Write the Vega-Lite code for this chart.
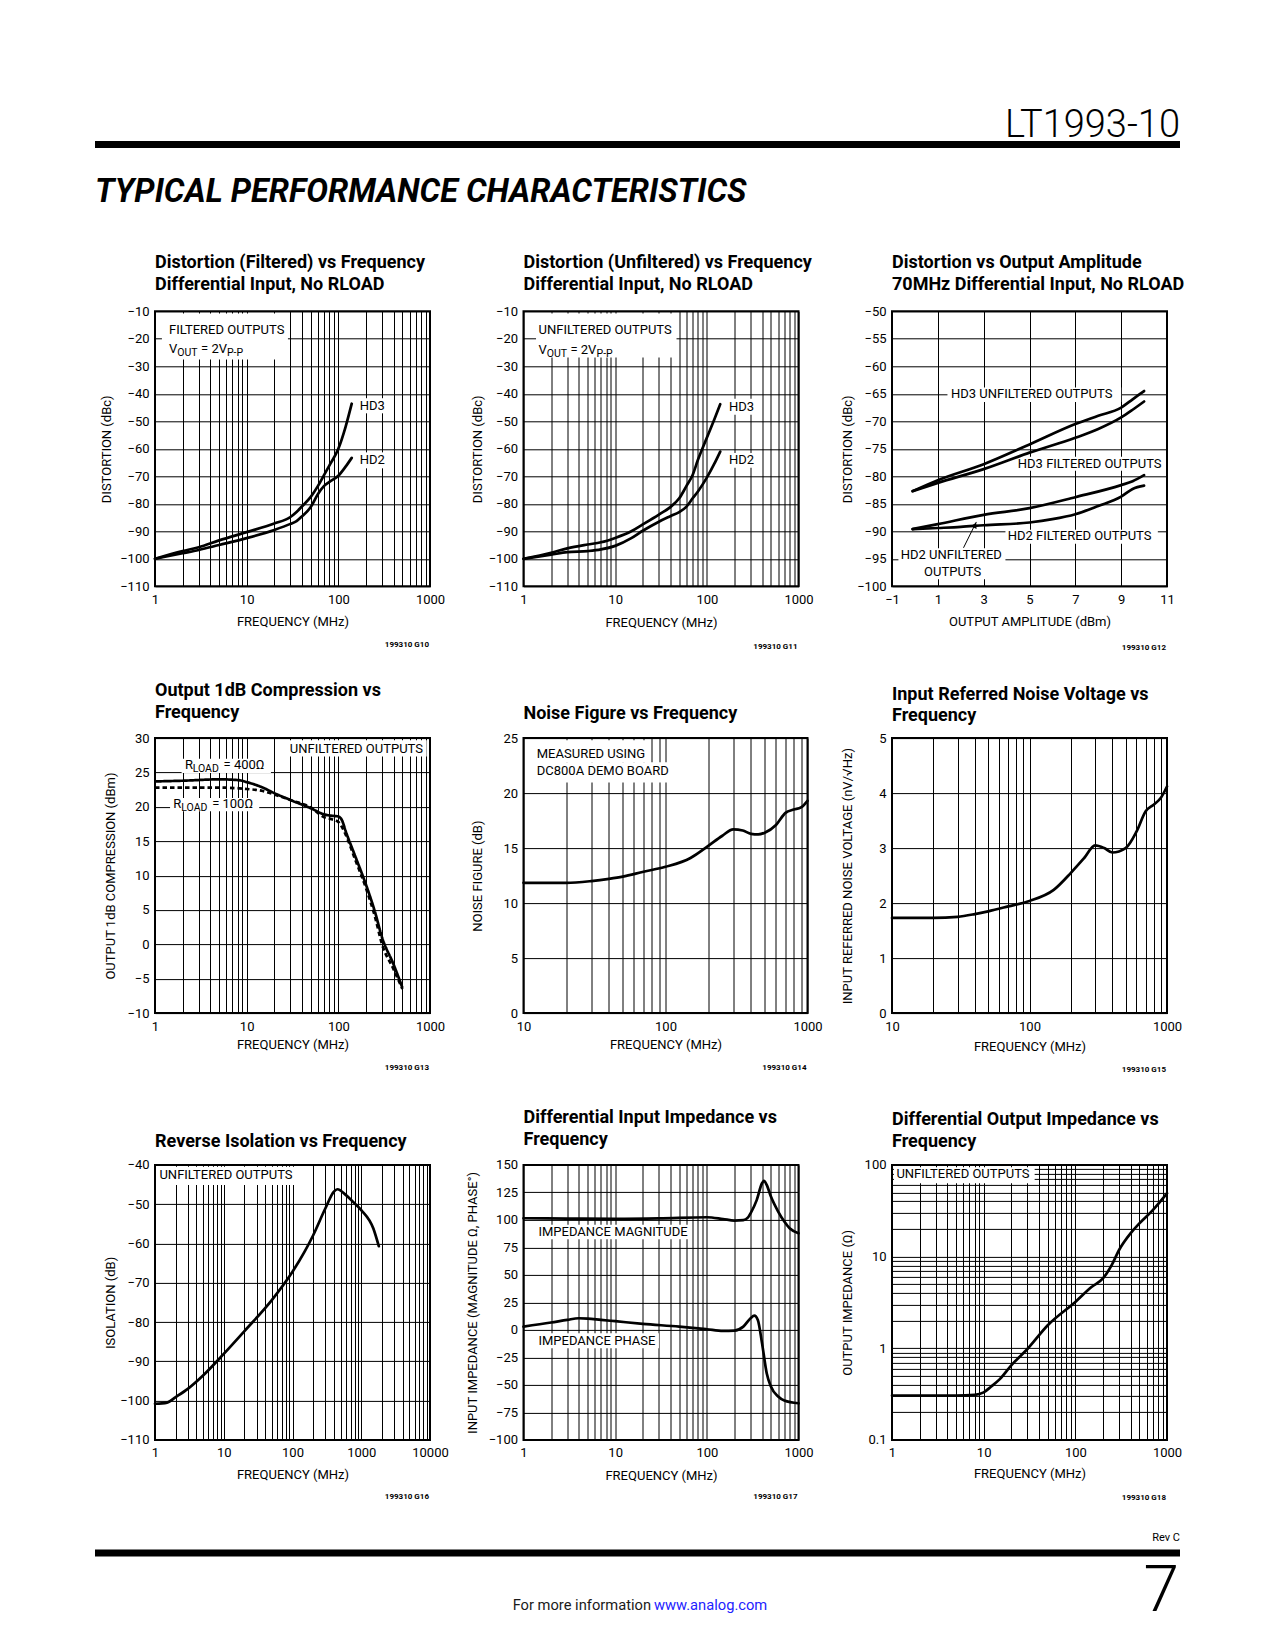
{
"$schema": "https://vega.github.io/schema/vega-lite/v6.json",
"background": "white",
"padding": {"left": 95, "top": 107, "right": 5, "bottom": 5},
"config": {
  "font": "Roboto",
  "view": {"stroke": "black", "strokeWidth": 2},
  "axis": {"domain": false, "ticks": false, "tickSize": 0, "grid": true, "gridColor": "black", "gridWidth": 1, "gridOpacity": 1, "labelFont": "Roboto", "labelFontSize": 13, "labelColor": "black", "labelFlush": false, "labelOverlap": false, "titleFont": "Roboto", "titleFontSize": 13, "titleFontWeight": "normal", "titleColor": "black", "titleBaseline": "middle"},
  "axisX": {"labelPadding": 7},
  "axisY": {"labelPadding": 6},
  "title": {"font": "Roboto", "fontSize": 18, "fontWeight": "bold", "color": "black", "anchor": "start", "frame": "group", "lineHeight": 21.5},
  "text": {"font": "Roboto", "fontSize": 13, "color": "black"}
},
"spacing": 28.3,
"datasets": {
  "l1": [
    {"x":1,"y":-100,"s":"HD3"},{"x":2,"y":-97.2,"s":"HD3"},{"x":3,"y":-95.8,"s":"HD3"},{"x":5,"y":-93.3,"s":"HD3"},{"x":10,"y":-90.3,"s":"HD3"},{"x":20,"y":-87.2,"s":"HD3"},{"x":30,"y":-84.8,"s":"HD3"},{"x":35,"y":-83,"s":"HD3"},{"x":40,"y":-81,"s":"HD3"},{"x":50,"y":-77.5,"s":"HD3"},{"x":60,"y":-73.5,"s":"HD3"},{"x":70,"y":-69.5,"s":"HD3"},{"x":80,"y":-66,"s":"HD3"},{"x":100,"y":-60,"s":"HD3"},{"x":120,"y":-52,"s":"HD3"},{"x":140,"y":-43.6,"s":"HD3"},
    {"x":1,"y":-100,"s":"HD2"},{"x":2,"y":-98,"s":"HD2"},{"x":3,"y":-96.8,"s":"HD2"},{"x":5,"y":-95,"s":"HD2"},{"x":10,"y":-92.5,"s":"HD2"},{"x":20,"y":-89.5,"s":"HD2"},{"x":30,"y":-87.3,"s":"HD2"},{"x":35,"y":-86.3,"s":"HD2"},{"x":40,"y":-84.6,"s":"HD2"},{"x":50,"y":-81.2,"s":"HD2"},{"x":60,"y":-76.4,"s":"HD2"},{"x":70,"y":-73.5,"s":"HD2"},{"x":80,"y":-72,"s":"HD2"},{"x":100,"y":-69.8,"s":"HD2"},{"x":120,"y":-66.5,"s":"HD2"},{"x":140,"y":-63.3,"s":"HD2"}
  ],
  "t1": [{"x":1.42,"y":-16.9,"t":"FILTERED OUTPUTS"},{"x":1.42,"y":-23.6,"t":"V"},{"x":3.18,"y":-23.6,"t":"= 2V"},{"x":171,"y":-44.4,"t":"HD3"},{"x":171,"y":-64.2,"t":"HD2"}],
  "u1": [{"x":1.75,"y":-25.05,"t":"OUT"},{"x":6.1,"y":-25.05,"t":"P-P"}],
  "b1": [{"x":1.19,"x2":28.2,"y":-10.8,"y2":-27.5},{"x":156,"x2":348,"y":-41.6,"y2":-47.1},{"x":156,"x2":348,"y":-61.3,"y2":-67.1}],
  "l2": [
    {"x":1,"y":-100,"s":"HD3"},{"x":2,"y":-97.8,"s":"HD3"},{"x":3,"y":-96.2,"s":"HD3"},{"x":5,"y":-94.8,"s":"HD3"},{"x":7,"y":-94,"s":"HD3"},{"x":10,"y":-92.4,"s":"HD3"},{"x":15,"y":-90,"s":"HD3"},{"x":20,"y":-87.5,"s":"HD3"},{"x":30,"y":-83.9,"s":"HD3"},{"x":40,"y":-81.2,"s":"HD3"},{"x":50,"y":-78,"s":"HD3"},{"x":60,"y":-73.5,"s":"HD3"},{"x":70,"y":-69.5,"s":"HD3"},{"x":80,"y":-64,"s":"HD3"},{"x":100,"y":-56,"s":"HD3"},{"x":120,"y":-49.5,"s":"HD3"},{"x":140,"y":-43.8,"s":"HD3"},
    {"x":1,"y":-100,"s":"HD2"},{"x":2,"y":-98.5,"s":"HD2"},{"x":3,"y":-97.6,"s":"HD2"},{"x":5,"y":-97.2,"s":"HD2"},{"x":7,"y":-96.6,"s":"HD2"},{"x":10,"y":-95.3,"s":"HD2"},{"x":15,"y":-92.5,"s":"HD2"},{"x":20,"y":-89.8,"s":"HD2"},{"x":30,"y":-86.5,"s":"HD2"},{"x":40,"y":-84.5,"s":"HD2"},{"x":50,"y":-83,"s":"HD2"},{"x":60,"y":-81,"s":"HD2"},{"x":70,"y":-78,"s":"HD2"},{"x":80,"y":-75.5,"s":"HD2"},{"x":100,"y":-70.5,"s":"HD2"},{"x":120,"y":-65.6,"s":"HD2"},{"x":140,"y":-61,"s":"HD2"}
  ],
  "t2": [{"x":1.46,"y":-16.7,"t":"UNFILTERED OUTPUTS"},{"x":1.457,"y":-24,"t":"V"},{"x":3.25,"y":-24,"t":"= 2V"},{"x":174,"y":-44.7,"t":"HD3"},{"x":174,"y":-64.1,"t":"HD2"}],
  "u2": [{"x":1.796,"y":-25.46,"t":"OUT"},{"x":6.26,"y":-25.46,"t":"P-P"}],
  "b2": [{"x":1.37,"x2":46.7,"y":-10.8,"y2":-26.8},{"x":160,"x2":375,"y":-41.8,"y2":-47.6},{"x":160,"x2":375,"y":-61.5,"y2":-66.9}],
  "l3": [
    {"x":-0.1,"y":-82.7,"s":"HD3U"},{"x":1,"y":-80.7,"s":"HD3U"},{"x":3,"y":-77.8,"s":"HD3U"},{"x":5,"y":-74.2,"s":"HD3U"},{"x":7,"y":-70.5,"s":"HD3U"},{"x":8,"y":-69,"s":"HD3U"},{"x":9,"y":-67.5,"s":"HD3U"},{"x":9.5,"y":-66,"s":"HD3U"},{"x":10,"y":-64.5,"s":"HD3U"},
    {"x":-0.1,"y":-82.7,"s":"HD3F"},{"x":1,"y":-81.2,"s":"HD3F"},{"x":3,"y":-78.7,"s":"HD3F"},{"x":5,"y":-75.7,"s":"HD3F"},{"x":7,"y":-73,"s":"HD3F"},{"x":8,"y":-71.4,"s":"HD3F"},{"x":9,"y":-69.3,"s":"HD3F"},{"x":9.5,"y":-67.9,"s":"HD3F"},{"x":10,"y":-66.4,"s":"HD3F"},
    {"x":-0.1,"y":-89.6,"s":"HD2U"},{"x":1,"y":-88.7,"s":"HD2U"},{"x":3,"y":-87,"s":"HD2U"},{"x":5,"y":-85.8,"s":"HD2U"},{"x":7,"y":-83.8,"s":"HD2U"},{"x":9,"y":-81.6,"s":"HD2U"},{"x":9.5,"y":-80.9,"s":"HD2U"},{"x":10,"y":-79.8,"s":"HD2U"},
    {"x":-0.1,"y":-89.6,"s":"HD2F"},{"x":1,"y":-89.4,"s":"HD2F"},{"x":2,"y":-89.2,"s":"HD2F"},{"x":3,"y":-88.9,"s":"HD2F"},{"x":5,"y":-88.4,"s":"HD2F"},{"x":6,"y":-87.8,"s":"HD2F"},{"x":7,"y":-86.9,"s":"HD2F"},{"x":8,"y":-85.4,"s":"HD2F"},{"x":9,"y":-83.7,"s":"HD2F"},{"x":9.5,"y":-82.3,"s":"HD2F"},{"x":10,"y":-81.7,"s":"HD2F"}
  ],
  "t3": [{"x":1.571,"y":-65.09,"t":"HD3 UNFILTERED OUTPUTS"},{"x":4.49,"y":-77.68,"t":"HD3 FILTERED OUTPUTS"},{"x":4.05,"y":-90.93,"t":"HD2 FILTERED OUTPUTS"},{"x":-0.62,"y":-94.29,"t":"HD2 UNFILTERED"},{"x":0.4,"y":-97.32,"t":"OUTPUTS"}],
  "b3": [{"x":1.42,"x2":9.0,"y":-63.87,"y2":-66.48},{"x":4.39,"x2":10.93,"y":-76.46,"y2":-79.01},{"x":3.95,"x2":10.6,"y":-89.72,"y2":-92.28},{"x":-0.72,"x2":3.95,"y":-93.07,"y2":-98.72}],
  "a3": [{"x":2.12,"y":-93.0,"x2":2.68,"y2":-88.3}],
  "h3": [{"x":2.62,"y":-88.87}],
  "l4": [
    {"x":1,"y":23.7,"s":"400"},{"x":2,"y":23.8,"s":"400"},{"x":5,"y":24,"s":"400"},{"x":8,"y":23.9,"s":"400"},{"x":10,"y":23.6,"s":"400"},{"x":15,"y":22.8,"s":"400"},{"x":20,"y":22,"s":"400"},{"x":30,"y":21,"s":"400"},{"x":50,"y":19.8,"s":"400"},{"x":70,"y":18.9,"s":"400"},{"x":85,"y":18.7,"s":"400"},{"x":100,"y":18.6,"s":"400"},{"x":110,"y":18,"s":"400"},{"x":120,"y":16.5,"s":"400"},{"x":150,"y":13.1,"s":"400"},{"x":200,"y":8.7,"s":"400"},{"x":250,"y":4.8,"s":"400"},{"x":300,"y":1,"s":"400"},{"x":400,"y":-2.9,"s":"400"},{"x":500,"y":-6.3,"s":"400"},
    {"x":1,"y":22.8,"s":"100"},{"x":2,"y":22.8,"s":"100"},{"x":5,"y":22.8,"s":"100"},{"x":10,"y":22.6,"s":"100"},{"x":15,"y":22.3,"s":"100"},{"x":20,"y":21.8,"s":"100"},{"x":30,"y":21,"s":"100"},{"x":50,"y":19.9,"s":"100"},{"x":70,"y":18.5,"s":"100"},{"x":85,"y":18.2,"s":"100"},{"x":100,"y":17.8,"s":"100"},{"x":120,"y":16,"s":"100"},{"x":150,"y":12.6,"s":"100"},{"x":200,"y":8.2,"s":"100"},{"x":250,"y":4.1,"s":"100"},{"x":300,"y":0,"s":"100"},{"x":400,"y":-3.6,"s":"100"},{"x":500,"y":-6.5,"s":"100"}
  ],
  "t4": [{"x":2.12,"y":26.04,"t":"R"},{"x":5.6,"y":26.04,"t":"= 400Ω"},{"x":1.58,"y":20.42,"t":"R"},{"x":4.2,"y":20.42,"t":"= 100Ω"},{"x":29.6,"y":28.46,"t":"UNFILTERED OUTPUTS"}],
  "u4": [{"x":2.575,"y":25.46,"t":"LOAD"},{"x":1.934,"y":19.84,"t":"LOAD"}],
  "b4": [{"x":1.95,"x2":18.4,"y":27.0,"y2":24.92},{"x":1.46,"x2":13.7,"y":21.3,"y2":19.36},{"x":27.9,"x2":920,"y":29.7,"y2":27.34}],
  "l5": [
    {"x":10,"y":11.84,"s":"nf"},{"x":20,"y":11.84,"s":"nf"},{"x":30,"y":12,"s":"nf"},{"x":40,"y":12.2,"s":"nf"},{"x":50,"y":12.4,"s":"nf"},{"x":70,"y":12.85,"s":"nf"},{"x":100,"y":13.3,"s":"nf"},{"x":150,"y":14.1,"s":"nf"},{"x":200,"y":15.2,"s":"nf"},{"x":250,"y":16.1,"s":"nf"},{"x":300,"y":16.7,"s":"nf"},{"x":350,"y":16.6,"s":"nf"},{"x":400,"y":16.3,"s":"nf"},{"x":450,"y":16.25,"s":"nf"},{"x":500,"y":16.4,"s":"nf"},{"x":600,"y":17.1,"s":"nf"},{"x":700,"y":18.2,"s":"nf"},{"x":800,"y":18.5,"s":"nf"},{"x":900,"y":18.7,"s":"nf"},{"x":1000,"y":19.3,"s":"nf"}
  ],
  "t5": [{"x":12.4,"y":23.57,"t":"MEASURED USING"},{"x":12.4,"y":21.97,"t":"DC800A DEMO BOARD"}],
  "b5": [{"x":11.5,"x2":77,"y":24.8,"y2":22.8},{"x":11.5,"x2":118,"y":22.8,"y2":20.96}],
  "f5": [{"x":10,"x2":1000,"y":0,"y2":25}],
  "l6": [
    {"x":10,"y":1.73,"s":"n"},{"x":20,"y":1.73,"s":"n"},{"x":30,"y":1.75,"s":"n"},{"x":40,"y":1.8,"s":"n"},{"x":50,"y":1.85,"s":"n"},{"x":70,"y":1.94,"s":"n"},{"x":100,"y":2.04,"s":"n"},{"x":150,"y":2.24,"s":"n"},{"x":200,"y":2.55,"s":"n"},{"x":250,"y":2.82,"s":"n"},{"x":300,"y":3.05,"s":"n"},{"x":350,"y":3.0,"s":"n"},{"x":400,"y":2.92,"s":"n"},{"x":500,"y":3.0,"s":"n"},{"x":600,"y":3.3,"s":"n"},{"x":700,"y":3.67,"s":"n"},{"x":800,"y":3.79,"s":"n"},{"x":900,"y":3.91,"s":"n"},{"x":1000,"y":4.12,"s":"n"}
  ],
  "l7": [
    {"x":1,"y":-100.8,"s":"i"},{"x":1.5,"y":-100.5,"s":"i"},{"x":2,"y":-99.1,"s":"i"},{"x":3,"y":-97,"s":"i"},{"x":5,"y":-93.6,"s":"i"},{"x":10,"y":-88.1,"s":"i"},{"x":20,"y":-82.3,"s":"i"},{"x":50,"y":-74.4,"s":"i"},{"x":100,"y":-67.2,"s":"i"},{"x":150,"y":-62.1,"s":"i"},{"x":200,"y":-57.9,"s":"i"},{"x":300,"y":-51.1,"s":"i"},{"x":400,"y":-46.8,"s":"i"},{"x":450,"y":-46.2,"s":"i"},{"x":600,"y":-47.7,"s":"i"},{"x":800,"y":-49.8,"s":"i"},{"x":1000,"y":-51.5,"s":"i"},{"x":1500,"y":-56.2,"s":"i"},{"x":1800,"y":-60.7,"s":"i"}
  ],
  "t7": [{"x":1.16,"y":-42.55,"t":"UNFILTERED OUTPUTS"}],
  "b7": [{"x":1.07,"x2":111,"y":-40.5,"y2":-45.1}],
  "l8": [
    {"x":1,"y":101.5,"s":"mag"},{"x":3,"y":101.2,"s":"mag"},{"x":10,"y":100.9,"s":"mag"},{"x":30,"y":101.3,"s":"mag"},{"x":100,"y":102.4,"s":"mag"},{"x":150,"y":100.8,"s":"mag"},{"x":200,"y":99.4,"s":"mag"},{"x":250,"y":99.8,"s":"mag"},{"x":280,"y":102,"s":"mag"},{"x":300,"y":106,"s":"mag"},{"x":350,"y":118,"s":"mag"},{"x":400,"y":133.3,"s":"mag"},{"x":420,"y":135.5,"s":"mag"},{"x":450,"y":131.8,"s":"mag"},{"x":500,"y":121.2,"s":"mag"},{"x":600,"y":107.6,"s":"mag"},{"x":700,"y":98.5,"s":"mag"},{"x":800,"y":92.4,"s":"mag"},{"x":1000,"y":87.9,"s":"mag"},
    {"x":1,"y":3,"s":"ph"},{"x":2,"y":6.7,"s":"ph"},{"x":3,"y":9.1,"s":"ph"},{"x":4,"y":10.6,"s":"ph"},{"x":5,"y":10.3,"s":"ph"},{"x":7,"y":9.1,"s":"ph"},{"x":10,"y":7.9,"s":"ph"},{"x":20,"y":5.5,"s":"ph"},{"x":50,"y":3,"s":"ph"},{"x":100,"y":0.6,"s":"ph"},{"x":150,"y":-0.9,"s":"ph"},{"x":200,"y":-0.6,"s":"ph"},{"x":250,"y":3,"s":"ph"},{"x":300,"y":10.6,"s":"ph"},{"x":330,"y":13,"s":"ph"},{"x":360,"y":9.1,"s":"ph"},{"x":400,"y":-12,"s":"ph"},{"x":450,"y":-39.4,"s":"ph"},{"x":500,"y":-51.5,"s":"ph"},{"x":600,"y":-60.6,"s":"ph"},{"x":700,"y":-64.2,"s":"ph"},{"x":1000,"y":-66.7,"s":"ph"}
  ],
  "t8": [{"x":1.457,"y":89.4,"t":"IMPEDANCE MAGNITUDE"},{"x":1.457,"y":-9.7,"t":"IMPEDANCE PHASE"}],
  "b8": [{"x":1.34,"x2":68,"y":95.5,"y2":82.5},{"x":1.34,"x2":30,"y":-3,"y2":-16.6}],
  "l9": [
    {"x":1,"y":0.305,"s":"z"},{"x":5,"y":0.305,"s":"z"},{"x":8,"y":0.31,"s":"z"},{"x":10,"y":0.33,"s":"z"},{"x":12,"y":0.38,"s":"z"},{"x":15,"y":0.46,"s":"z"},{"x":20,"y":0.65,"s":"z"},{"x":30,"y":0.98,"s":"z"},{"x":50,"y":1.78,"s":"z"},{"x":100,"y":3.2,"s":"z"},{"x":150,"y":4.65,"s":"z"},{"x":200,"y":5.77,"s":"z"},{"x":250,"y":8.1,"s":"z"},{"x":300,"y":11.8,"s":"z"},{"x":400,"y":17.9,"s":"z"},{"x":500,"y":23,"s":"z"},{"x":700,"y":32.1,"s":"z"},{"x":1000,"y":48.9,"s":"z"}
  ],
  "t9": [{"x":1.117,"y":78.9,"t":"UNFILTERED OUTPUTS"}],
  "b9": [{"x":1.05,"x2":36,"y":94,"y2":63}],
  "head": [{"p":0,"p2":1}],
  "foot": [{"p":0,"p2":1,"t":"","c":"bar"},{"p":0.5,"t":"For more information","c":"info"},{"p":0.5,"t":"www.analog.com","c":"link"},{"p":1,"t":"7","c":"page"}]
},
"vconcat": [
  {
    "width": 1085, "height": 7,
    "view": {"stroke": null},
    "title": {"text": "LT1993-10", "anchor": "end", "frame": "group", "orient": "top", "offset": -4, "dx": -60, "font": "Roboto", "fontSize": 38, "fontWeight": 300, "color": "black"},
    "data": {"name": "head"},
    "mark": {"type": "rect", "color": "black"},
    "encoding": {
      "x": {"field": "p", "type": "quantitative", "scale": {"domain": [0, 1], "range": [-60, 1025], "nice": false}, "axis": null},
      "x2": {"field": "p2"}
    }
  },
  {
    "title": {"text": "TYPICAL PERFORMANCE CHARACTERISTICS", "anchor": "start", "frame": "group", "orient": "top", "dx": -60, "offset": 44.3, "font": "Roboto", "fontSize": 32.5, "fontWeight": "bold", "fontStyle": "italic", "color": "black"},
    "columns": 3,
    "spacing": {"row": 151.8, "column": 93.5},
    "bounds": "flush",
    "concat": [
      {
        "width": 275, "height": 275,
        "title": {"text": ["Distortion (Filtered) vs Frequency", "Differential Input, No RLOAD"], "offset": 11.7},
        "encoding": {
          "x": {"field": "x", "type": "quantitative", "scale": {"type": "log", "domain": [1, 1000], "nice": false}, "axis": {"title": "FREQUENCY (MHz)", "values": [1,2,3,4,5,6,7,8,9,10,20,30,40,50,60,70,80,90,100,200,300,400,500,600,700,800,900,1000], "format": "~g", "labelExpr": "indexof([0.1,1,10,100,1000,10000], datum.value) >= 0 ? datum.label : ''", "titleX": 137.5, "titleY": 35.6}},
          "y": {"field": "y", "type": "quantitative", "scale": {"domain": [-110, -10], "nice": false, "zero": false}, "axis": {"title": "DISTORTION (dBc)", "values": [-110,-100,-90,-80,-70,-60,-50,-40,-30,-20,-10], "titleX": -48.4, "titleY": 137.5}}
        },
        "layer": [
          {"data": {"name": "b1"}, "mark": {"type": "rect", "color": "white"}, "encoding": {"x2": {"field": "x2"}, "y2": {"field": "y2"}}},
          {"data": {"name": "l1"}, "mark": {"type": "line", "interpolate": "monotone", "color": "black", "strokeWidth": 2.7, "strokeCap": "round"}, "encoding": {"detail": {"field": "s", "type": "nominal"}}},
          {"data": {"name": "t1"}, "mark": {"type": "text", "align": "left", "baseline": "middle", "fontSize": 13}, "encoding": {"text": {"field": "t", "type": "nominal"}}},
          {"data": {"name": "u1"}, "mark": {"type": "text", "align": "left", "baseline": "middle", "fontSize": 10.5}, "encoding": {"text": {"field": "t", "type": "nominal"}}},
          {"data": {"values": [{"t": "199310 G10"}]}, "mark": {"type": "text", "align": "right", "baseline": "middle", "fontSize": 8, "fontWeight": "bold", "dx": -1, "dy": 58.8}, "encoding": {"x": {"value": "width"}, "y": {"value": "height"}, "text": {"field": "t", "type": "nominal"}}}
        ]
      },
      {
        "width": 275, "height": 275,
        "title": {"text": ["Distortion (Unfiltered) vs Frequency", "Differential Input, No RLOAD"], "offset": 11.7},
        "encoding": {
          "x": {"field": "x", "type": "quantitative", "scale": {"type": "log", "domain": [1, 1000], "nice": false}, "axis": {"title": "FREQUENCY (MHz)", "values": [1,2,3,4,5,6,7,8,9,10,20,30,40,50,60,70,80,90,100,200,300,400,500,600,700,800,900,1000], "format": "~g", "labelExpr": "indexof([0.1,1,10,100,1000,10000], datum.value) >= 0 ? datum.label : ''", "titleX": 137.5, "titleY": 35.7}},
          "y": {"field": "y", "type": "quantitative", "scale": {"domain": [-110, -10], "nice": false, "zero": false}, "axis": {"title": "DISTORTION (dBc)", "values": [-110,-100,-90,-80,-70,-60,-50,-40,-30,-20,-10], "titleX": -45.8, "titleY": 137.5}}
        },
        "layer": [
          {"data": {"name": "b2"}, "mark": {"type": "rect", "color": "white"}, "encoding": {"x2": {"field": "x2"}, "y2": {"field": "y2"}}},
          {"data": {"name": "l2"}, "mark": {"type": "line", "interpolate": "monotone", "color": "black", "strokeWidth": 2.7, "strokeCap": "round"}, "encoding": {"detail": {"field": "s", "type": "nominal"}}},
          {"data": {"name": "t2"}, "mark": {"type": "text", "align": "left", "baseline": "middle", "fontSize": 13}, "encoding": {"text": {"field": "t", "type": "nominal"}}},
          {"data": {"name": "u2"}, "mark": {"type": "text", "align": "left", "baseline": "middle", "fontSize": 10.5}, "encoding": {"text": {"field": "t", "type": "nominal"}}},
          {"data": {"values": [{"t": "199310 G11"}]}, "mark": {"type": "text", "align": "right", "baseline": "middle", "fontSize": 8, "fontWeight": "bold", "dx": -1, "dy": 61}, "encoding": {"x": {"value": "width"}, "y": {"value": "height"}, "text": {"field": "t", "type": "nominal"}}}
        ]
      },
      {
        "width": 275, "height": 275,
        "title": {"text": ["Distortion vs Output Amplitude", "70MHz Differential Input, No RLOAD"], "offset": 11.7},
        "encoding": {
          "x": {"field": "x", "type": "quantitative", "scale": {"domain": [-1, 11], "nice": false, "zero": false}, "axis": {"title": "OUTPUT AMPLITUDE (dBm)", "values": [-1,1,3,5,7,9,11], "titleX": 137.5, "titleY": 35.3}},
          "y": {"field": "y", "type": "quantitative", "scale": {"domain": [-100, -50], "nice": false, "zero": false}, "axis": {"title": "DISTORTION (dBc)", "values": [-100,-95,-90,-85,-80,-75,-70,-65,-60,-55,-50], "titleX": -44.2, "titleY": 137.5}}
        },
        "layer": [
          {"data": {"name": "b3"}, "mark": {"type": "rect", "color": "white"}, "encoding": {"x2": {"field": "x2"}, "y2": {"field": "y2"}}},
          {"data": {"name": "l3"}, "mark": {"type": "line", "interpolate": "monotone", "color": "black", "strokeWidth": 2.7, "strokeCap": "round"}, "encoding": {"detail": {"field": "s", "type": "nominal"}}},
          {"data": {"name": "a3"}, "mark": {"type": "rule", "color": "black", "strokeWidth": 1}, "encoding": {"x2": {"field": "x2"}, "y2": {"field": "y2"}}},
          {"data": {"name": "h3"}, "mark": {"type": "point", "shape": "triangle-up", "angle": 26, "size": 40, "filled": true, "color": "black", "opacity": 1}},
          {"data": {"name": "t3"}, "mark": {"type": "text", "align": "left", "baseline": "middle", "fontSize": 13}, "encoding": {"text": {"field": "t", "type": "nominal"}}},
          {"data": {"values": [{"t": "199310 G12"}]}, "mark": {"type": "text", "align": "right", "baseline": "middle", "fontSize": 8, "fontWeight": "bold", "dx": -1, "dy": 61.5}, "encoding": {"x": {"value": "width"}, "y": {"value": "height"}, "text": {"field": "t", "type": "nominal"}}}
        ]
      },
      {
        "width": 275, "height": 275,
        "title": {"text": ["Output 1dB Compression vs", "Frequency"], "offset": 10.3},
        "encoding": {
          "x": {"field": "x", "type": "quantitative", "scale": {"type": "log", "domain": [1, 1000], "nice": false}, "axis": {"title": "FREQUENCY (MHz)", "values": [1,2,3,4,5,6,7,8,9,10,20,30,40,50,60,70,80,90,100,200,300,400,500,600,700,800,900,1000], "format": "~g", "labelExpr": "indexof([0.1,1,10,100,1000,10000], datum.value) >= 0 ? datum.label : ''", "titleX": 137.5, "titleY": 31.7}},
          "y": {"field": "y", "type": "quantitative", "scale": {"domain": [-10, 30], "nice": false, "zero": false}, "axis": {"title": "OUTPUT 1dB COMPRESSION (dBm)", "values": [-10,-5,0,5,10,15,20,25,30], "titleX": -44.8, "titleY": 137.5}}
        },
        "layer": [
          {"data": {"name": "b4"}, "mark": {"type": "rect", "color": "white"}, "encoding": {"x2": {"field": "x2"}, "y2": {"field": "y2"}}},
          {"data": {"name": "l4"}, "mark": {"type": "line", "interpolate": "monotone", "color": "black", "strokeWidth": 2.7}, "encoding": {"strokeDash": {"field": "s", "type": "nominal", "scale": {"domain": ["400", "100"], "range": [[1, 0], [4.5, 3]]}, "legend": null}}},
          {"data": {"name": "t4"}, "mark": {"type": "text", "align": "left", "baseline": "middle", "fontSize": 13}, "encoding": {"text": {"field": "t", "type": "nominal"}}},
          {"data": {"name": "u4"}, "mark": {"type": "text", "align": "left", "baseline": "middle", "fontSize": 10.5}, "encoding": {"text": {"field": "t", "type": "nominal"}}},
          {"data": {"values": [{"t": "199310 G13"}]}, "mark": {"type": "text", "align": "right", "baseline": "middle", "fontSize": 8, "fontWeight": "bold", "dx": -1, "dy": 55}, "encoding": {"x": {"value": "width"}, "y": {"value": "height"}, "text": {"field": "t", "type": "nominal"}}}
        ]
      },
      {
        "width": 275, "height": 275,
        "view": {"stroke": null},
        "title": {"text": "Noise Figure vs Frequency", "offset": 8.7},
        "encoding": {
          "x": {"field": "x", "type": "quantitative", "scale": {"type": "log", "domain": [10, 1000], "range": [0, 284], "nice": false}, "axis": {"title": "FREQUENCY (MHz)", "values": [10,20,30,40,50,60,70,80,90,100,200,300,400,500,600,700,800,900,1000], "format": "~g", "labelExpr": "indexof([0.1,1,10,100,1000,10000], datum.value) >= 0 ? datum.label : ''", "titleX": 142, "titleY": 31.5}},
          "y": {"field": "y", "type": "quantitative", "scale": {"domain": [0, 25], "nice": false}, "axis": {"title": "NOISE FIGURE (dB)", "values": [0,5,10,15,20,25], "titleX": -46.5, "titleY": 137.5}}
        },
        "layer": [
          {"data": {"name": "b5"}, "mark": {"type": "rect", "color": "white"}, "encoding": {"x2": {"field": "x2"}, "y2": {"field": "y2"}}},
          {"data": {"name": "f5"}, "mark": {"type": "rect", "filled": false, "stroke": "black", "strokeWidth": 2}, "encoding": {"x2": {"field": "x2"}, "y2": {"field": "y2"}}},
          {"data": {"name": "l5"}, "mark": {"type": "line", "interpolate": "monotone", "color": "black", "strokeWidth": 2.7, "strokeCap": "round"}, "encoding": {"detail": {"field": "s", "type": "nominal"}}},
          {"data": {"name": "t5"}, "mark": {"type": "text", "align": "left", "baseline": "middle", "fontSize": 13}, "encoding": {"text": {"field": "t", "type": "nominal"}}},
          {"data": {"values": [{"t": "199310 G14"}]}, "mark": {"type": "text", "align": "right", "baseline": "middle", "fontSize": 8, "fontWeight": "bold", "dx": 8, "dy": 55}, "encoding": {"x": {"value": "width"}, "y": {"value": "height"}, "text": {"field": "t", "type": "nominal"}}}
        ]
      },
      {
        "width": 275, "height": 275,
        "title": {"text": ["Input Referred Noise Voltage vs", "Frequency"], "offset": 7},
        "encoding": {
          "x": {"field": "x", "type": "quantitative", "scale": {"type": "log", "domain": [10, 1000], "nice": false}, "axis": {"title": "FREQUENCY (MHz)", "values": [10,20,30,40,50,60,70,80,90,100,200,300,400,500,600,700,800,900,1000], "format": "~g", "labelExpr": "indexof([0.1,1,10,100,1000,10000], datum.value) >= 0 ? datum.label : ''", "titleX": 137.5, "titleY": 33.3}},
          "y": {"field": "y", "type": "quantitative", "scale": {"domain": [0, 5], "nice": false}, "axis": {"title": "INPUT REFERRED NOISE VOLTAGE (nV/√Hz)", "values": [0,1,2,3,4,5], "titleX": -44.8, "titleY": 137.5}}
        },
        "layer": [
          {"data": {"name": "l6"}, "mark": {"type": "line", "interpolate": "monotone", "color": "black", "strokeWidth": 2.7, "strokeCap": "round"}, "encoding": {"detail": {"field": "s", "type": "nominal"}}},
          {"data": {"values": [{"t": "199310 G15"}]}, "mark": {"type": "text", "align": "right", "baseline": "middle", "fontSize": 8, "fontWeight": "bold", "dx": -1, "dy": 57}, "encoding": {"x": {"value": "width"}, "y": {"value": "height"}, "text": {"field": "t", "type": "nominal"}}}
        ]
      },
      {
        "width": 275, "height": 275,
        "title": {"text": "Reverse Isolation vs Frequency", "offset": 8.3},
        "encoding": {
          "x": {"field": "x", "type": "quantitative", "scale": {"type": "log", "domain": [1, 10000], "nice": false}, "axis": {"title": "FREQUENCY (MHz)", "values": [1,2,3,4,5,6,7,8,9,10,20,30,40,50,60,70,80,90,100,200,300,400,500,600,700,800,900,1000,2000,3000,4000,5000,6000,7000,8000,9000,10000], "format": "~g", "labelExpr": "indexof([0.1,1,10,100,1000,10000], datum.value) >= 0 ? datum.label : ''", "titleX": 137.5, "titleY": 34.3}},
          "y": {"field": "y", "type": "quantitative", "scale": {"domain": [-110, -40], "nice": false, "zero": false}, "axis": {"title": "ISOLATION (dB)", "values": [-110,-100,-90,-80,-70,-60,-50,-40], "titleX": -44.1, "titleY": 137.5}}
        },
        "layer": [
          {"data": {"name": "b7"}, "mark": {"type": "rect", "color": "white"}, "encoding": {"x2": {"field": "x2"}, "y2": {"field": "y2"}}},
          {"data": {"name": "l7"}, "mark": {"type": "line", "interpolate": "monotone", "color": "black", "strokeWidth": 2.7, "strokeCap": "round"}, "encoding": {"detail": {"field": "s", "type": "nominal"}}},
          {"data": {"name": "t7"}, "mark": {"type": "text", "align": "left", "baseline": "middle", "fontSize": 13}, "encoding": {"text": {"field": "t", "type": "nominal"}}},
          {"data": {"values": [{"t": "199310 G16"}]}, "mark": {"type": "text", "align": "right", "baseline": "middle", "fontSize": 8, "fontWeight": "bold", "dx": -1, "dy": 57}, "encoding": {"x": {"value": "width"}, "y": {"value": "height"}, "text": {"field": "t", "type": "nominal"}}}
        ]
      },
      {
        "width": 275, "height": 275,
        "title": {"text": ["Differential Input Impedance vs", "Frequency"], "offset": 10},
        "encoding": {
          "x": {"field": "x", "type": "quantitative", "scale": {"type": "log", "domain": [1, 1000], "nice": false}, "axis": {"title": "FREQUENCY (MHz)", "values": [1,2,3,4,5,6,7,8,9,10,20,30,40,50,60,70,80,90,100,200,300,400,500,600,700,800,900,1000], "format": "~g", "labelExpr": "indexof([0.1,1,10,100,1000,10000], datum.value) >= 0 ? datum.label : ''", "titleX": 137.5, "titleY": 35.7}},
          "y": {"field": "y", "type": "quantitative", "scale": {"domain": [-100, 150], "nice": false, "zero": false}, "axis": {"title": "INPUT IMPEDANCE (MAGNITUDE Ω, PHASE°)", "values": [-100,-75,-50,-25,0,25,50,75,100,125,150], "titleX": -50.8, "titleY": 137.5}}
        },
        "layer": [
          {"data": {"name": "b8"}, "mark": {"type": "rect", "color": "white"}, "encoding": {"x2": {"field": "x2"}, "y2": {"field": "y2"}}},
          {"data": {"name": "l8"}, "mark": {"type": "line", "interpolate": "monotone", "color": "black", "strokeWidth": 2.7, "strokeCap": "round"}, "encoding": {"detail": {"field": "s", "type": "nominal"}}},
          {"data": {"name": "t8"}, "mark": {"type": "text", "align": "left", "baseline": "middle", "fontSize": 13}, "encoding": {"text": {"field": "t", "type": "nominal"}}},
          {"data": {"values": [{"t": "199310 G17"}]}, "mark": {"type": "text", "align": "right", "baseline": "middle", "fontSize": 8, "fontWeight": "bold", "dx": -1, "dy": 56.7}, "encoding": {"x": {"value": "width"}, "y": {"value": "height"}, "text": {"field": "t", "type": "nominal"}}}
        ]
      },
      {
        "width": 275, "height": 275,
        "title": {"text": ["Differential Output Impedance vs", "Frequency"], "offset": 8.3},
        "encoding": {
          "x": {"field": "x", "type": "quantitative", "scale": {"type": "log", "domain": [1, 1000], "nice": false}, "axis": {"title": "FREQUENCY (MHz)", "values": [1,2,3,4,5,6,7,8,9,10,20,30,40,50,60,70,80,90,100,200,300,400,500,600,700,800,900,1000], "format": "~g", "labelExpr": "indexof([0.1,1,10,100,1000,10000], datum.value) >= 0 ? datum.label : ''", "titleX": 137.5, "titleY": 34}},
          "y": {"field": "y", "type": "quantitative", "scale": {"type": "log", "domain": [0.1, 100], "nice": false}, "axis": {"title": "OUTPUT IMPEDANCE (Ω)", "values": [0.1,0.2,0.3,0.4,0.5,0.6,0.7,0.8,0.9,1,2,3,4,5,6,7,8,9,10,20,30,40,50,60,70,80,90,100], "format": "~g", "labelExpr": "indexof([0.1,1,10,100,1000,10000], datum.value) >= 0 ? datum.label : ''", "titleX": -44.1, "titleY": 137.5}}
        },
        "layer": [
          {"data": {"name": "b9"}, "mark": {"type": "rect", "color": "white"}, "encoding": {"x2": {"field": "x2"}, "y2": {"field": "y2"}}},
          {"data": {"name": "l9"}, "mark": {"type": "line", "interpolate": "monotone", "color": "black", "strokeWidth": 2.7, "strokeCap": "round"}, "encoding": {"detail": {"field": "s", "type": "nominal"}}},
          {"data": {"name": "t9"}, "mark": {"type": "text", "align": "left", "baseline": "middle", "fontSize": 13}, "encoding": {"text": {"field": "t", "type": "nominal"}}},
          {"data": {"values": [{"t": "199310 G18"}]}, "mark": {"type": "text", "align": "right", "baseline": "middle", "fontSize": 8, "fontWeight": "bold", "dx": -1, "dy": 58}, "encoding": {"x": {"value": "width"}, "y": {"value": "height"}, "text": {"field": "t", "type": "nominal"}}}
        ]
      }
    ]
  },
  {
    "width": 1085, "height": 7,
    "view": {"stroke": null},
    "title": {"text": "Rev C", "anchor": "end", "frame": "group", "orient": "top", "offset": 6.6, "dx": -60, "font": "Roboto", "fontSize": 11, "fontWeight": "normal", "color": "black"},
    "data": {"name": "foot"},
    "encoding": {
      "x": {"field": "p", "type": "quantitative", "scale": {"domain": [0, 1], "range": [-60, 1025], "nice": false}, "axis": null}
    },
    "layer": [
      {"transform": [{"filter": "datum.c === 'bar'"}], "mark": {"type": "rect", "color": "black"}, "encoding": {"x2": {"field": "p2"}}},
      {"transform": [{"filter": "datum.c === 'info'"}], "mark": {"type": "text", "align": "right", "baseline": "alphabetic", "fontSize": 14.7, "color": "#1a1a1a", "y": "height", "dx": 13.5, "dy": 53}, "encoding": {"text": {"field": "t", "type": "nominal"}}},
      {"transform": [{"filter": "datum.c === 'link'"}], "mark": {"type": "text", "align": "left", "baseline": "alphabetic", "fontSize": 14.7, "color": "#2222ff", "y": "height", "dx": 16.5, "dy": 53}, "encoding": {"text": {"field": "t", "type": "nominal"}}},
      {"transform": [{"filter": "datum.c === 'page'"}], "mark": {"type": "text", "align": "right", "baseline": "alphabetic", "fontSize": 64, "fontWeight": 300, "color": "black", "y": "height", "dx": -1, "dy": 54}, "encoding": {"text": {"field": "t", "type": "nominal"}}}
    ]
  }
]
}
